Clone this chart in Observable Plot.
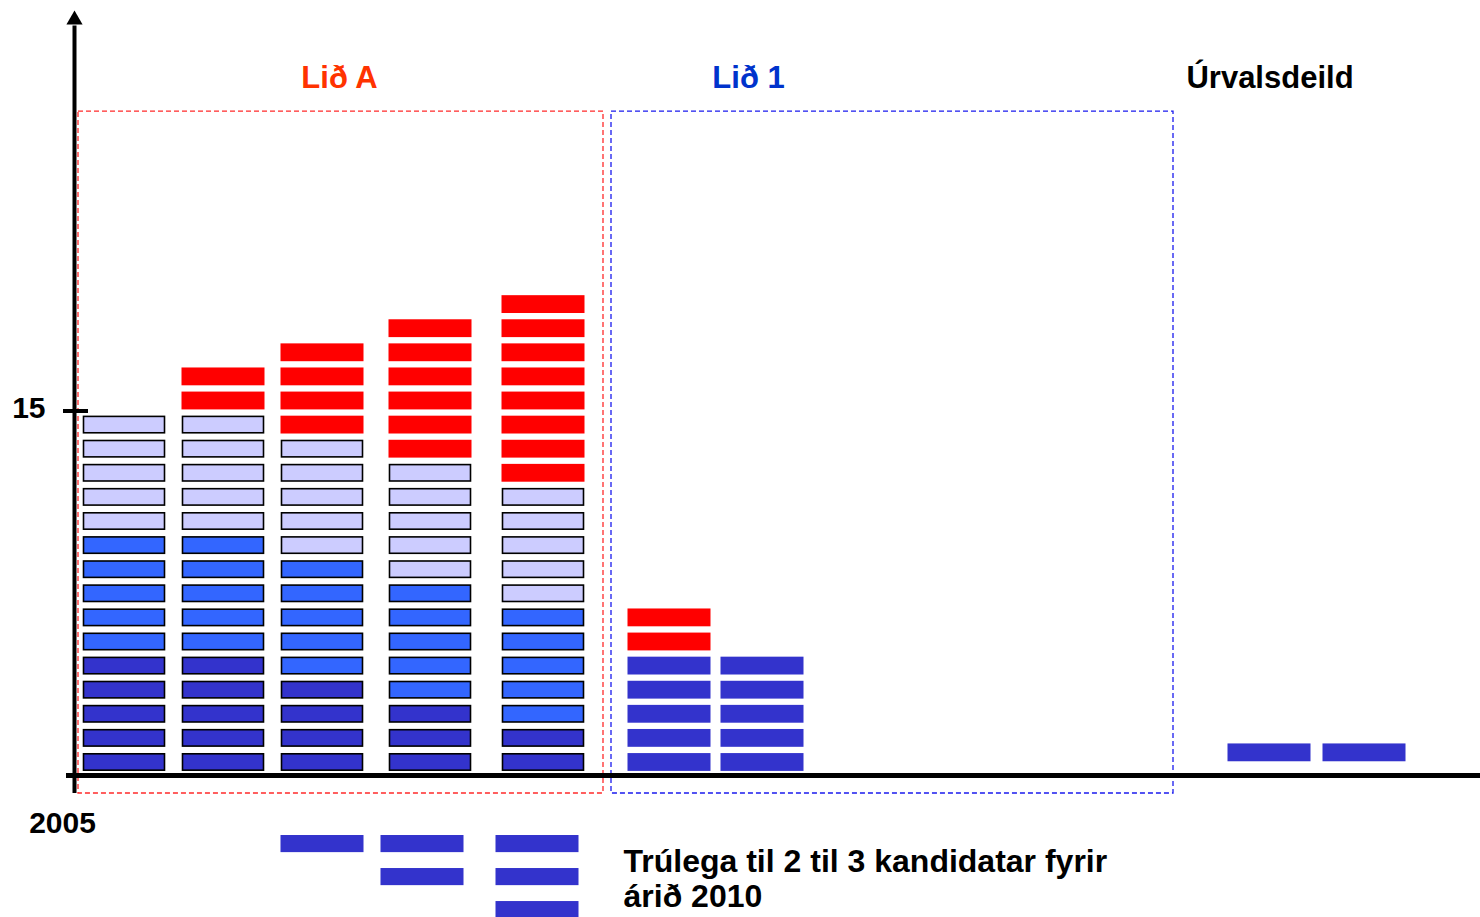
<!DOCTYPE html>
<html><head><meta charset="utf-8">
<script src="https://cdn.jsdelivr.net/npm/d3@7"></script>
<script src="https://cdn.jsdelivr.net/npm/@observablehq/plot@0.6"></script>
<style>html,body{margin:0;padding:0;background:#fff;} #chart{width:1480px;height:917px;overflow:hidden}</style>
</head><body><div id="chart"></div>
<script>
// ---- data ----
const columns   = ["A1","A2","A3","A4","A5","L1","L2","U1","U2"];
const group     = ["Lið A","Lið A","Lið A","Lið A","Lið A","Lið 1","Lið 1","Úrvalsdeild","Úrvalsdeild"];
const colX      = [0.5, 1.49, 2.48, 3.56, 4.69, 5.95, 6.88, 11.95, 12.9];
const darkBlue  = [5, 5, 4, 3, 2, 5, 5, 1, 1];
const midBlue   = [5, 5, 5, 5, 5, 0, 0, 0, 0];
const lightBlue = [5, 5, 5, 5, 5, 0, 0, 0, 0];
const red       = [0, 2, 4, 6, 8, 2, 0, 0, 0];

const futureX     = [2.48, 3.48, 4.63];
const futureCount = [1, 2, 3];

const groupNames  = ["Lið A", "Lið 1", "Úrvalsdeild"];
const groupLabelX = [2.65, 6.74, 11.955];
const frameX1     = [0.04, 5.37];
const frameX2     = [5.29, 10.99];

const yTicks      = [15];
const xTickLabel  = ["2005"];
const note        = "Trúlega til 2 til 3 kandidatar fyrir\nárið 2010";

// ---- build ----
const layerColor = {dark: "#3333cc", mid: "#3366ff", light: "#ccccff", red: "#ff0000"};
const groupLift = {"Lið A": 0, "Lið 1": 0, "Úrvalsdeild": 0.4};
const blocks = [];
columns.forEach((c, i) => {
  let k = 0;
  for (const [layer, counts] of [["dark", darkBlue], ["mid", midBlue], ["light", lightBlue], ["red", red]]) {
    for (let j = 0; j < counts[i]; j++) {
      blocks.push({x: colX[i], k: k++ + groupLift[group[i]], color: layerColor[layer],
        outlined: group[i] === "Lið A" && layer !== "red"});
    }
  }
});
const future = [];
futureX.forEach((x, i) => { for (let j = 0; j < futureCount[i]; j++) future.push({x, j}); });

const W = 0.415, B0 = 0.17, BH = 0.74;
const frames = frameX1.map((x1, i) => ({x1, x2: frameX2[i], name: groupNames[i]}));
const labels = groupNames.map((name, i) => ({name, x: groupLabelX[i]}));
const groupColor = {"Lið A": "#ff3300", "Lið 1": "#0033cc", "Úrvalsdeild": "#000000"};
const frameColor = {"Lið A": "#ff2a2a", "Lið 1": "#1a1aee"};

const chart = Plot.plot({
  width: 1480, height: 917,
  marginTop: 0, marginRight: 0, marginBottom: 0, marginLeft: 0,
  x: {type: "linear", domain: [-0.74, 14.06], axis: null},
  y: {type: "linear", domain: [-5.892, 32.158], axis: null},
  style: {fontFamily: "'Liberation Sans', Arial, sans-serif", background: "#fff"},
  marks: [
    Plot.rect(frames, {x1: "x1", x2: "x2", y1: -0.747, y2: 27.55, fill: "none",
      stroke: d => frameColor[d.name], strokeWidth: 1.3, strokeDasharray: "5,3"}),
    Plot.rect(blocks.filter(d => d.outlined), {x1: d => d.x - W + 0.01, x2: d => d.x + W - 0.01,
      y1: d => d.k + B0 + 0.03, y2: d => d.k + B0 + BH - 0.03, fill: d => d.color, stroke: "#000", strokeWidth: 1.6}),
    Plot.rect(blocks.filter(d => !d.outlined), {x1: d => d.x - W, x2: d => d.x + W,
      y1: d => d.k + B0, y2: d => d.k + B0 + BH, fill: d => d.color}),
    Plot.rect(future, {x1: d => d.x - W, x2: d => d.x + W,
      y1: d => -3.2 - 1.37 * d.j, y2: d => -2.49 - 1.37 * d.j, fill: "#3333cc"}),
    // axes
    Plot.ruleY([0], {x1: -0.08, x2: 14.06, stroke: "#000", strokeWidth: 5}),
    Plot.ruleX([0], {y1: -0.747, y2: 31.1, stroke: "#000", strokeWidth: 4}),
    Plot.dot([0], {x: 0, y: 31.36, symbol: "triangle", r: 6, fill: "#000", stroke: "none"}),
    Plot.ruleY(yTicks, {x1: -0.11, x2: 0.14, stroke: "#000", strokeWidth: 4, dy: -3}),
    Plot.text(yTicks, {x: 0, y: d => d, text: d => String(d), dx: -29, dy: -6, textAnchor: "end",
      fontSize: 30, fontWeight: "bold", fill: "#000"}),
    Plot.text(xTickLabel, {x: 0, y: -2.0, text: d => d, dx: -12, textAnchor: "middle",
      fontSize: 30, fontWeight: "bold", fill: "#000"}),
    Plot.text(labels, {x: "x", y: 28.92, text: "name", fill: d => groupColor[d.name],
      fontSize: 31, fontWeight: "bold", textAnchor: "middle"}),
    Plot.text([note], {x: 5.49, y: -3.1, dy: -3, text: d => d, textAnchor: "start", lineAnchor: "top",
      lineHeight: 1.1, fontSize: 32, fontWeight: "bold", fill: "#000"})
  ]
});
document.getElementById("chart").appendChild(chart);
</script></body></html>
